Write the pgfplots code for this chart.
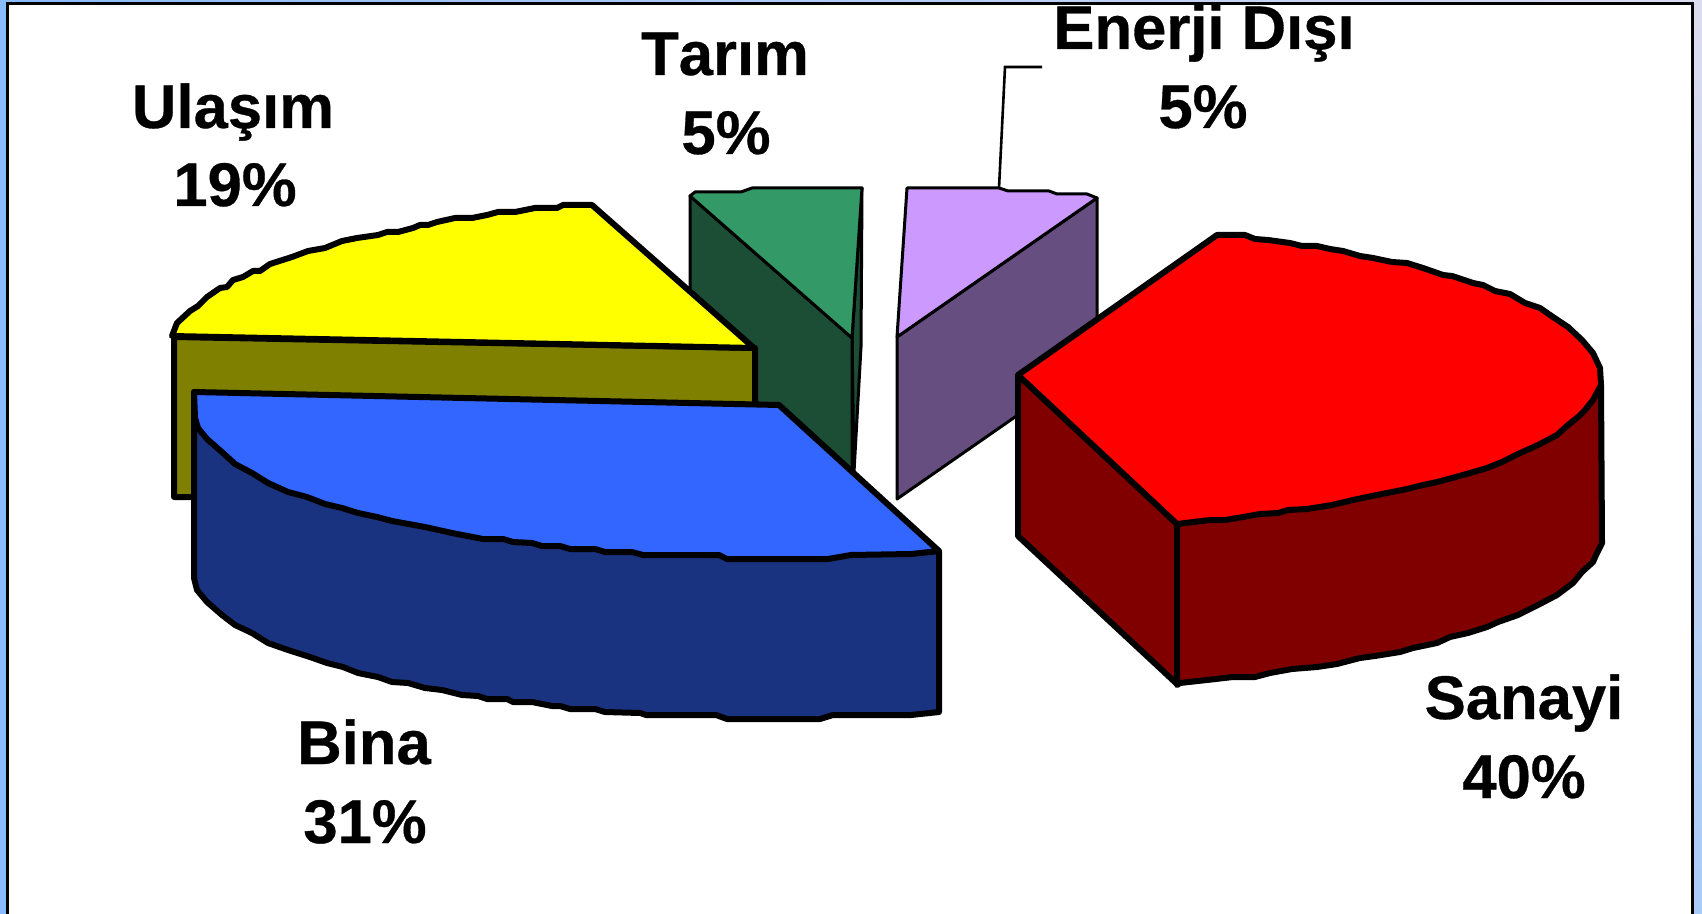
\documentclass[border=0pt]{standalone}
\usepackage{pgfplots}
\pgfplotsset{compat=1.18}
\usepackage{fontspec}
\setmainfont{Liberation Sans}
\newfontfamily\labf[FakeBold=0.5,Kerning=Off]{Liberation Sans Bold}
\definecolor{bgl}{HTML}{8ABBFF}
\definecolor{bgrt}{HTML}{DCDCF0}
\definecolor{bgrb}{HTML}{A8CCF8}
\definecolor{yel}{HTML}{FFFF00}
\definecolor{oli}{HTML}{808000}
\definecolor{grn}{HTML}{339966}
\definecolor{dgrn}{HTML}{1C4E36}
\definecolor{pur}{HTML}{CC99FF}
\definecolor{dpur}{HTML}{664F80}
\definecolor{rd}{HTML}{FF0000}
\definecolor{drd}{HTML}{800000}
\definecolor{blu}{HTML}{3366FF}
\definecolor{dblu}{HTML}{1A3380}
\tikzset{thick slice/.style={draw=black,line width=3pt,line join=round,line cap=round},
 thin slice/.style={draw=black,line width=1.5pt,line join=round,line cap=round},
 lab/.style={font=\labf\fontsize{30.8}{30.8}\selectfont,anchor=base,inner sep=0pt,text=black}}
\begin{document}
\begin{tikzpicture}
\begin{axis}[
  scale only axis,width=851pt,height=457pt,
  xmin=0,xmax=1702,ymin=0,ymax=914,y dir=reverse,
  axis lines=none,clip=true]
% background and frame
\addplot[draw=none,fill=bgl,forget plot] coordinates {(0,0)(851,0)(851,914)(0,914)} -- cycle;
\addplot[draw=none,top color=bgrt,bottom color=bgrb,forget plot] coordinates {(1690,0)(1702,0)(1702,914)(1690,914)} -- cycle;
\addplot[draw=none,fill=white,forget plot] coordinates {(8,4)(1692,4)(1692,914)(8,914)} -- cycle;
% Energy-outside side and top
\addplot[thin slice,fill=dpur,forget plot] coordinates {(897,337)(1097,198)(1097,360)(897,499)} -- cycle;
\addplot[thin slice,fill=pur,forget plot] coordinates {(897,337)(907,188)(999,188)(1008,191)(1049,191)(1057,194)(1087,194)(1097,198)} -- cycle;
\addplot[draw=black,line width=1.3pt,forget plot] coordinates {(1042,67)(1005,67)(999,188)};
% Tarim
\addplot[thin slice,fill=dgrn,forget plot] coordinates {(862,188)(861,347)(854,472)(852,338)} -- cycle;
\addplot[thin slice,fill=dgrn,forget plot] coordinates {(690,196)(852,338)(852,486)(690,343)} -- cycle;
\addplot[thin slice,fill=grn,forget plot] coordinates {(690,196)(695,192)(741,192)(752,188)(862,188)(852,338)} -- cycle;
% Ulasim
\addplot[thick slice,fill=oli,forget plot] coordinates {(174,337)(755,348)(755,497)(174,497)} -- cycle;
\addplot[thick slice,fill=yel,forget plot] coordinates {(172,336)(177,323)(190,311)(198,306)(207,297)(220,288)(227,287)(233,280)(243,277)(253,271)(260,271)(270,264)(292,257)(308,251)(325,248)(342,241)(357,238)(378,235)(387,232)(398,232)(413,228)(420,225)(428,225)(437,222)(455,218)(472,218)(487,215)(498,212)(515,212)(535,208)(557,208)(563,205)(592,205)(754,348)} -- cycle;
% Bina
\addplot[thick slice,fill=dblu,forget plot] coordinates {(194,392)(194,578)(197,590)(207,602)(222,615)(235,625)(252,633)(268,643)(288,650)(310,657)(327,663)(343,667)(358,673)(378,677)(392,682)(408,683)(425,688)(442,690)(462,695)(478,696)(487,699)(507,699)(513,702)(532,702)(552,706)(560,706)(570,709)(595,709)(605,712)(640,713)(646,715)(716,715)(727,719)(820,719)(833,715)(911,715)(939,712)(939,551)} -- cycle;
\addplot[thick slice,fill=blu,forget plot] coordinates {(194,392)(779,405)(939,551)(911,554)(851,555)(828,559)(727,559)(719,555)(643,555)(632,552)(605,552)(595,549)(570,549)(560,546)(542,546)(532,543)(513,542)(503,539)(483,539)(452,533)(425,527)(392,521)(377,517)(358,513)(342,508)(325,504)(307,497)(288,492)(268,483)(252,473)(235,464)(223,453)(207,439)(198,428)(195,418)} -- cycle;
% Sanayi
\addplot[thick slice,fill=drd,forget plot] coordinates {(1018,375)(1177,524)(1177,684)(1018,536)} -- cycle;
\addplot[thick slice,fill=drd,forget plot] coordinates {(1177,524)(1601,385)(1602,543)(1597,553)(1593,562)(1582,572)(1573,583)(1557,595)(1538,605)(1518,615)(1498,622)(1487,627)(1468,633)(1450,637)(1437,643)(1413,648)(1400,652)(1375,656)(1360,658)(1337,664)(1317,667)(1292,669)(1270,673)(1255,677)(1233,677)(1207,680)(1180,683)(1177,685)} -- cycle;
\addplot[thick slice,fill=rd,forget plot] coordinates {(1018,375)(1217,235)(1245,235)(1255,239)(1268,240)(1290,243)(1302,246)(1317,246)(1330,249)(1343,251)(1360,256)(1373,258)(1392,262)(1407,263)(1423,268)(1443,275)(1452,276)(1473,283)(1483,285)(1495,291)(1510,294)(1525,303)(1540,308)(1553,317)(1568,327)(1582,340)(1593,353)(1600,368)(1601,385)(1593,400)(1585,410)(1578,417)(1568,425)(1557,435)(1538,445)(1518,454)(1502,462)(1487,468)(1470,473)(1452,478)(1437,482)(1423,485)(1407,489)(1387,493)(1367,497)(1353,500)(1332,505)(1307,509)(1288,510)(1278,513)(1260,514)(1243,517)(1225,520)(1210,520)(1177,524)} -- cycle;
% labels
\node[lab] at (axis cs:233,128) {Ulaşım};
\node[lab] at (axis cs:235,206) {19\%};
\node[lab] at (axis cs:725,75) {Tarım};
\node[lab] at (axis cs:726,154) {5\%};
\node[lab] at (axis cs:1204,49) {Enerji Dışı};
\node[lab] at (axis cs:1203,128) {5\%};
\node[lab] at (axis cs:364,764) {Bina};
\node[lab] at (axis cs:365,843) {31\%};
\node[lab] at (axis cs:1524,719) {Sanayi};
\node[lab] at (axis cs:1524,798) {40\%};
% frame on top
\addplot[draw=none,left color=bgl,right color=bgrt,forget plot] coordinates {(0,0)(1702,0)(1702,3)(0,3)} -- cycle;
\addplot[draw=black,line width=1.5pt,forget plot] coordinates {(7.5,914)(7.5,3.5)(1692.5,3.5)(1692.5,914)};
\end{axis}
\end{tikzpicture}
\end{document}
